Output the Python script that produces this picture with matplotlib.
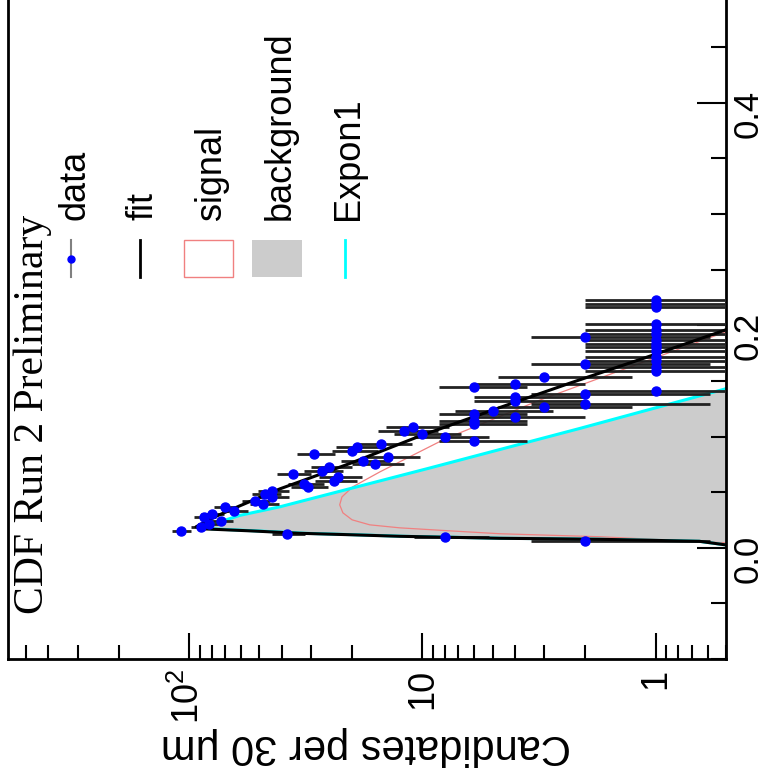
import numpy as np
import matplotlib
matplotlib.use('Agg')
import matplotlib.pyplot as plt
from matplotlib.patches import Rectangle
from matplotlib.ticker import LogLocator, FixedLocator, MultipleLocator, NullFormatter

plt.rcParams['font.family'] = ['Liberation Sans', 'DejaVu Sans']

# ---- data (ct in cm, candidates per 30 um bin) ----
data_ct = [0.0063, 0.0093, 0.0123, 0.0153, 0.0183, 0.0213, 0.0243, 0.0273, 0.0303, 0.0333,
           0.0363, 0.0393, 0.0423, 0.0453, 0.0483, 0.0513, 0.0543, 0.0573, 0.0603, 0.0633,
           0.0663, 0.0693, 0.0723, 0.0753, 0.0783, 0.0813, 0.0843, 0.0873, 0.0903, 0.0933,
           0.0963, 0.0993, 0.1023, 0.1053, 0.1083, 0.1113, 0.1143, 0.1173, 0.1203, 0.1233,
           0.1263, 0.1293, 0.1323, 0.1353, 0.1383, 0.1413, 0.1443, 0.1473, 0.1533, 0.1593,
           0.1623, 0.1653, 0.1683, 0.1713, 0.1773, 0.1803, 0.1833, 0.1863, 0.1893, 0.1923,
           0.1953, 0.2013, 0.2163, 0.2193, 0.2223]
data_n = [2, 8, 38, 108, 89, 82, 73, 86, 80, 64,
          70, 48, 52, 44, 47, 44, 31, 32, 24, 23,
          36, 27, 25, 16, 18, 14, 29, 20, 19, 15,
          6, 8, 10, 12, 11, 6, 6, 4, 6, 5,
          3, 2, 4, 4, 2, 1, 6, 4, 3, 1,
          1, 2, 1, 1, 1, 1, 1, 1, 2, 1,
          1, 1, 1, 1, 1]

# ---- fit curves ----
fit_ct = [0.0020, 0.0027, 0.0058, 0.0067, 0.0076, 0.0081, 0.0085, 0.0094, 0.0103, 0.0117,
          0.0130, 0.0152, 0.0170, 0.0188, 0.0278, 0.0377, 0.0529, 0.0758, 0.1004, 0.1260,
          0.1480, 0.1722, 0.1955, 0.2000]
fit_val = [0.45, 0.507, 0.65, 1.06, 1.74, 2.84, 4.66, 7.6, 12.5, 20.4,
           33.5, 54.8, 87.1, 93.3, 77.4, 60.5, 40.8, 20.4, 10.25, 4.66,
           2.33, 1.06, 0.507, 0.45]

bg_ct = [0.0020, 0.0027, 0.0058, 0.0067, 0.0076, 0.0081, 0.0085, 0.0094, 0.0103, 0.0117,
         0.0130, 0.0152, 0.0170, 0.0188, 0.0291, 0.0368, 0.0717, 0.1072, 0.1426, 0.1470]
bg_val = [0.45, 0.507, 0.65, 1.05, 1.7, 2.8, 4.5, 7.3, 12.0, 19.5,
          32.0, 52.0, 80.0, 86.0, 60.5, 40.8, 9.29, 2.12, 0.507, 0.45]

sig_ct = [0.0035, 0.0045, 0.0099, 0.0126, 0.0152, 0.0179, 0.0206, 0.0251, 0.0314, 0.0386,
          0.0457, 0.0547, 0.0682, 0.0978, 0.1327, 0.1937, 0.1990]
sig_val = [0.45, 0.507, 1.74, 4.66, 7.63, 12.5, 16.8, 20.0, 21.9, 22.6,
           22.1, 19.9, 15.2, 8.0, 3.14, 0.507, 0.45]

ct_ticks = [0.0, 0.2, 0.4]
ct_labels = ['0.0', '0.2', '0.4']
n_ticks = [1, 10, 100]
n_labels = ['1', '10', r'$\mathregular{10^{2}}$']
legend_labels = ['data', 'fit', 'signal', 'background', 'Expon1']
title = 'CDF Run 2 Preliminary'
ylabel = 'Candidates per 30 μm'

W, H = 771, 782
fig = plt.figure(figsize=(W / 100, H / 100), dpi=100)
ax = fig.add_axes([8 / W, 1 - 659 / H, (726 - 8) / W, (659 + 8.5) / H])
ax.set_xscale('log')
ax.set_xlim(596, 0.5)
ax.set_ylim(-0.1, 0.5)

# background fill + components
ax.fill_betweenx(bg_ct, bg_val, 0.3, color='#cccccc', lw=0, zorder=1)
ax.plot(sig_val, sig_ct, color='#f08080', lw=0.9, zorder=2)
ax.plot(bg_val, bg_ct, color='#00ffff', lw=2.2, zorder=2.5)

n = np.array(data_n, dtype=float)
err = np.sqrt(n)
lo = np.minimum(err, n * 0.999)
ax.errorbar(n, data_ct, xerr=[lo, err], fmt='none', ecolor='#222222',
            elinewidth=2, capsize=0, zorder=3)
ax.plot(fit_val, fit_ct, color='black', lw=2.2, zorder=5)
ax.plot(n, data_ct, 'o', color='blue', mec='blue', ms=6.5, zorder=6)

# axes styling
for s in ['left', 'right', 'bottom']:
    ax.spines[s].set_linewidth(2)
ax.spines['top'].set_visible(False)

ax.set_xticks(n_ticks)
ax.set_xticklabels(n_labels)
ax.xaxis.set_minor_locator(LogLocator(base=10, subs=np.arange(2, 10)))
ax.xaxis.set_minor_formatter(NullFormatter())
ax.yaxis.tick_right()
ax.yaxis.set_major_locator(FixedLocator(ct_ticks))
ax.set_yticklabels(ct_labels)
ax.yaxis.set_minor_locator(MultipleLocator(0.05))

ax.tick_params(axis='x', which='both', direction='in', bottom=True, top=False,
               labelrotation=90, labelsize=26, pad=7, width=1.5)
ax.tick_params(axis='x', which='major', length=19)
ax.tick_params(axis='x', which='minor', length=10)
ax.tick_params(axis='y', which='both', direction='in', right=True, left=False,
               labelrotation=90, labelsize=25, pad=4, width=1.5)
ax.tick_params(axis='y', which='major', length=21)
ax.tick_params(axis='y', which='minor', length=11)

# overlay in pixel coordinates for rotated texts and legend
ov = fig.add_axes([0, 0, 1, 1], facecolor='none')
ov.set_xlim(0, W)
ov.set_ylim(H, 0)
ov.axis('off')

ov.text(43, 614, title, rotation=90, rotation_mode='anchor', ha='left',
        va='baseline', fontsize=30, family=['Liberation Serif', 'DejaVu Serif'])
ov.text(366, 746, ylabel, rotation=180, ha='center', va='center', fontsize=30)

step = 68.5
for i, lab in enumerate(legend_labels):
    ov.text(84 + step * i, 220, lab, rotation=90, rotation_mode='anchor',
            ha='left', va='baseline', fontsize=26)

cx = [71 + step * i for i in range(5)]
ov.plot([cx[0], cx[0]], [240, 277], color='gray', lw=1.5)
ov.plot([cx[0]], [259], 'o', color='blue', ms=5)
ov.plot([cx[1], cx[1]], [240, 277], color='black', lw=2)
ov.add_patch(Rectangle((cx[2] - 24.5, 240), 49, 37, fc='white', ec='#f08080', lw=1))
ov.add_patch(Rectangle((cx[3] - 25, 240), 50, 37, fc='#cccccc', ec='none'))
ov.plot([cx[4], cx[4]], [240, 277], color='#00ffff', lw=2)

fig.savefig('out.png', dpi=100)
